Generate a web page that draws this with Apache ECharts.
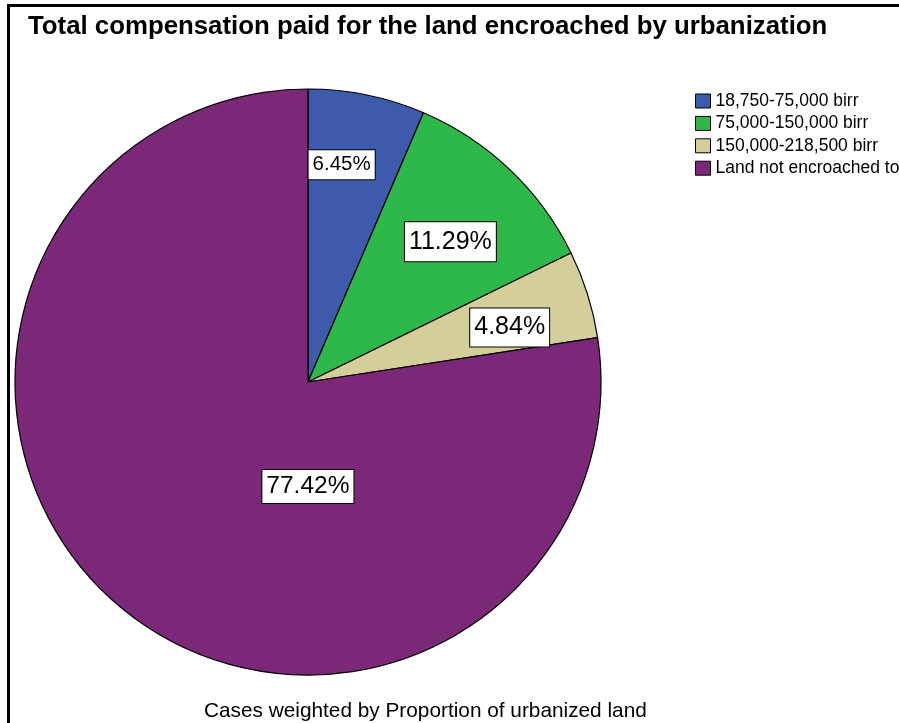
<html lang="en">
<head>
    <meta charset="UTF-8">
    <title>Total compensation</title>
    <script src="https://cdn.jsdelivr.net/npm/echarts@6/dist/echarts.min.js"></script>
    <style>
        body { margin: 0; background: #fff; }
    </style>
</head>
<body>
<div id="main" style="width: 899px;height:723px;"></div>
<script type="text/javascript">
    var categories = ['18,750-75,000 birr', '75,000-150,000 birr', '150,000-218,500 birr', 'Land not encroached to urbanization'];
    var shares = [6.45, 11.29, 4.84, 77.42];
    var colors = ['#3e5aac', '#2fb84a', '#d4ce9a', '#7b2879'];

    // label look / placement (SPSS style: small labels near rim, big one under centre)
    var labelSizes = [20.5, 25, 25, 24.5];
    var labelPads = [[5, 4, 3, 4], [8, 4, 6, 4], [8, 4, 5, 4], [5, 4, 3, 4]];
    var labelRadius = [0.75, 0.682, 0.713, 0.357];
    var labelTurn = [-2.8, 1.9, 2.3, -40.6];

    var cx = 308, cy = 382, R = 293;
    var total = shares.reduce(function (a, b) { return a + b; }, 0);

    function labelPos(i) {
        var before = 0;
        for (var k = 0; k < i; k++) before += shares[k];
        var a = ((before + shares[i] / 2) / total * 360 + labelTurn[i]) * Math.PI / 180;
        var r = R * labelRadius[i];
        return { x: cx + Math.sin(a) * r, y: cy - Math.cos(a) * r };
    }

    var myChart = echarts.init(document.getElementById('main'));
    var option = {
        animation: false,
        title: {
            text: 'Total compensation paid for the land encroached by urbanization',
            left: 23,
            top: 9,
            textStyle: { fontFamily: 'Liberation Sans, Arial', fontSize: 25.8, fontWeight: 'bold', color: '#000' }
        },
        graphic: [
            { type: 'rect', left: 6, top: 3, shape: { width: 1000, height: 800 },
              style: { fill: 'none', stroke: '#000', lineWidth: 3 } },
            { type: 'text', left: 204, top: 701,
              style: { text: 'Cases weighted by Proportion of urbanized land',
                       font: '20.8px "Liberation Sans", Arial', fill: '#000' } }
        ],
        legend: {
            orient: 'vertical',
            left: 690,
            top: 87,
            itemWidth: 15,
            itemHeight: 14,
            itemGap: 4.4,
            icon: 'rect',
            data: categories,
            itemStyle: { borderColor: '#000', borderWidth: 1 },
            textStyle: { fontFamily: 'Liberation Sans, Arial', fontSize: 17.5, color: '#000', padding: [0, 0, 0, 0] }
        },
        series: [{
            type: 'pie',
            center: [cx, cy],
            radius: R,
            startAngle: 90,
            clockwise: true,
            color: colors,
            itemStyle: { borderColor: '#000', borderWidth: 1.2 },
            label: {
                show: true,
                position: 'inside',
                formatter: function (p) { return p.value.toFixed(2) + '%'; },
                fontFamily: 'Liberation Sans, Arial',
                color: '#000',
                backgroundColor: '#fff',
                borderColor: '#000',
                borderWidth: 1
            },
            labelLayout: function (params) {
                var p = labelPos(params.dataIndex);
                return { x: p.x, y: p.y, align: 'center', verticalAlign: 'middle' };
            },
            emphasis: { disabled: true },
            data: categories.map(function (c, i) {
                return { name: c, value: shares[i], label: { fontSize: labelSizes[i], padding: labelPads[i] } };
            })
        }]
    };
    myChart.setOption(option);
</script>
</body>
</html>
